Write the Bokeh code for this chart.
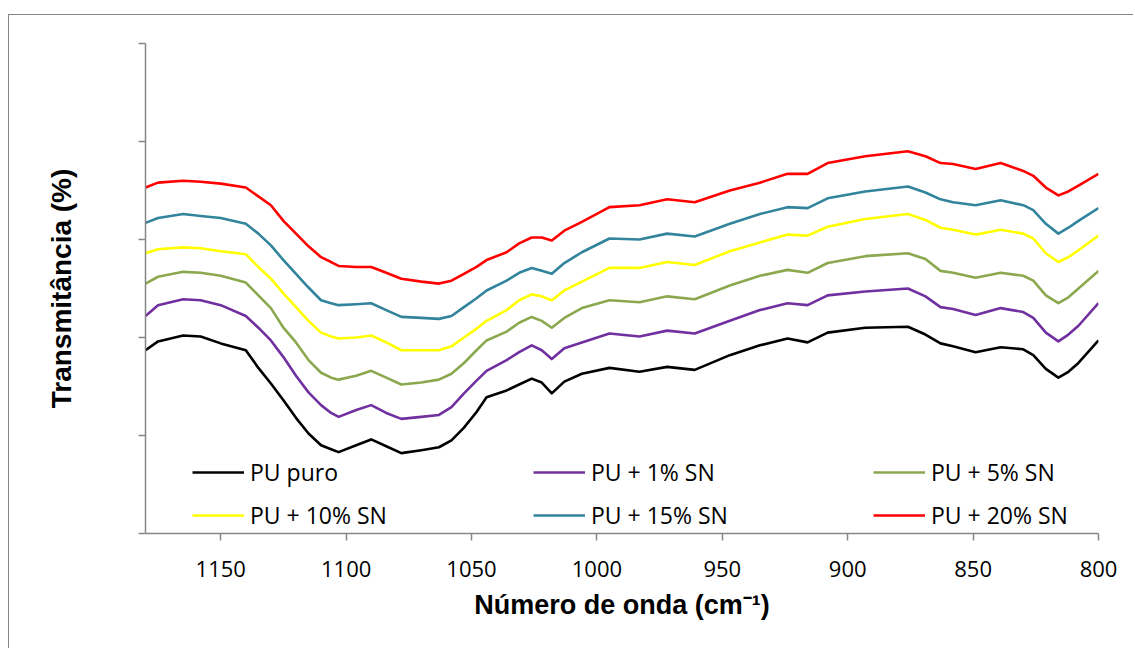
from bokeh.plotting import figure
from bokeh.models import Range1d, FixedTicker, Legend, LegendItem
from bokeh.embed import file_html
from bokeh.resources import INLINE

# Wavenumber (cm-1)
wavenumber = [1180, 1175, 1165, 1158, 1150, 1140, 1135, 1130, 1125, 1120, 1115, 1110,
              1106, 1103, 1096, 1090, 1084, 1078, 1070, 1063, 1058, 1053, 1048, 1044,
              1036, 1031, 1026, 1022, 1018, 1013, 1006, 995, 983, 972, 961, 947,
              935, 924, 916, 908, 893, 876, 869, 863, 858, 849, 839, 830,
              826, 821, 816, 812, 808, 800]

pu_puro = [18.7, 19.6, 20.2, 20.1, 19.4, 18.7, 16.9, 15.3, 13.6, 11.8, 10.2, 9.0,
           8.6, 8.3, 9.0, 9.6, 8.9, 8.2, 8.5, 8.8, 9.5, 10.8, 12.4, 13.9,
           14.6, 15.2, 15.8, 15.4, 14.3, 15.5, 16.3, 16.9, 16.5, 17.0, 16.7, 18.2,
           19.2, 19.9, 19.5, 20.5, 21.0, 21.1, 20.3, 19.4, 19.1, 18.5, 19.0, 18.8,
           18.2, 16.8, 15.9, 16.5, 17.4, 19.7]

pu_1 = [22.2, 23.3, 23.9, 23.8, 23.3, 22.2, 21.0, 19.7, 18.0, 16.1, 14.4, 13.1,
        12.3, 11.9, 12.6, 13.1, 12.3, 11.7, 11.9, 12.1, 12.9, 14.3, 15.6, 16.6,
        17.7, 18.5, 19.2, 18.7, 17.8, 18.9, 19.5, 20.4, 20.1, 20.7, 20.4, 21.7,
        22.8, 23.5, 23.3, 24.3, 24.7, 25.0, 24.2, 23.1, 22.9, 22.3, 23.0, 22.6,
        22.0, 20.5, 19.6, 20.3, 21.2, 23.5]

pu_5 = [25.5, 26.2, 26.7, 26.6, 26.3, 25.6, 24.3, 23.0, 21.0, 19.5, 17.7, 16.4,
        15.9, 15.7, 16.1, 16.6, 15.9, 15.2, 15.4, 15.7, 16.3, 17.4, 18.7, 19.7,
        20.6, 21.5, 22.1, 21.7, 21.0, 22.0, 23.0, 23.8, 23.6, 24.2, 23.9, 25.3,
        26.3, 26.9, 26.6, 27.6, 28.3, 28.6, 28.0, 26.8, 26.6, 26.1, 26.6, 26.3,
        25.8, 24.3, 23.5, 24.1, 25.0, 26.8]

pu_10 = [28.6, 29.0, 29.2, 29.1, 28.8, 28.5, 27.2, 26.0, 24.5, 23.1, 21.7, 20.5,
         20.1, 19.9, 20.0, 20.2, 19.5, 18.7, 18.7, 18.7, 19.1, 20.0, 20.9, 21.7,
         22.8, 23.8, 24.4, 24.2, 23.8, 24.8, 25.7, 27.1, 27.1, 27.7, 27.4, 28.8,
         29.7, 30.5, 30.4, 31.3, 32.1, 32.6, 32.0, 31.2, 31.0, 30.5, 31.0, 30.6,
         30.1, 28.6, 27.7, 28.2, 28.9, 30.4]

pu_15 = [31.7, 32.2, 32.6, 32.4, 32.2, 31.6, 30.6, 29.4, 27.9, 26.5, 25.1, 23.8,
         23.5, 23.3, 23.4, 23.5, 22.8, 22.1, 22.0, 21.9, 22.2, 23.1, 24.0, 24.8,
         25.8, 26.6, 27.1, 26.8, 26.5, 27.6, 28.7, 30.1, 30.0, 30.6, 30.3, 31.6,
         32.6, 33.3, 33.2, 34.2, 34.9, 35.4, 34.8, 34.1, 33.8, 33.5, 34.0, 33.5,
         33.0, 31.6, 30.6, 31.2, 31.9, 33.2]

pu_20 = [35.3, 35.8, 36.0, 35.9, 35.7, 35.3, 34.4, 33.5, 31.9, 30.6, 29.3, 28.2,
         27.7, 27.3, 27.2, 27.2, 26.6, 26.0, 25.7, 25.5, 25.8, 26.5, 27.2, 27.9,
         28.7, 29.6, 30.2, 30.2, 29.9, 30.9, 31.8, 33.3, 33.5, 34.1, 33.8, 35.0,
         35.8, 36.7, 36.7, 37.8, 38.5, 39.0, 38.5, 37.8, 37.7, 37.2, 37.8, 37.0,
         36.5, 35.3, 34.5, 34.9, 35.5, 36.7]

series_names = ["PU puro", "PU + 1% SN", "PU + 5% SN",
                "PU + 10% SN", "PU + 15% SN", "PU + 20% SN"]
series_values = [pu_puro, pu_1, pu_5, pu_10, pu_15, pu_20]
series_colors = ["#000000", "#7030A0", "#8BA84F", "#FFFF00", "#31849B", "#FF0000"]

x_ticks = [1150, 1100, 1050, 1000, 950, 900, 850, 800]
y_ticks = [0, 10, 20, 30, 40, 50]

AXIS_GREY = "#868686"

p = figure(width=1125, height=634, output_backend="svg", toolbar_location=None,
           x_range=Range1d(1180, 800), y_range=Range1d(0, 50),
           min_border_left=136, min_border_right=36, min_border_top=28,
           min_border_bottom=116)
p.grid.visible = False
p.outline_line_color = None
p.background_fill_color = "white"
p.border_fill_color = "white"
p.styles = {"margin-left": "8px", "margin-top": "14px",
            "border-left": "1.5px solid #868686",
            "border-top": "1.5px solid #868686"}

renderers = []
for name, vals, col in zip(series_names, series_values, series_colors):
    r = p.line(wavenumber, vals, line_color=col, line_width=2.6, line_join="round")
    renderers.append(r)

# axes
xa = p.xaxis[0]
xa.ticker = FixedTicker(ticks=x_ticks)
xa.axis_line_color = AXIS_GREY
xa.axis_line_width = 1.5
xa.major_tick_line_color = AXIS_GREY
xa.major_tick_line_width = 1.5
xa.major_tick_in = 0
xa.major_tick_out = 7
xa.minor_tick_line_color = None
xa.major_label_text_font = "Open Sans"
xa.major_label_text_font_size = "22px"
xa.major_label_text_color = "black"
xa.major_label_standoff = 20
xa.axis_label = "Número de onda (cm⁻¹)"
xa.axis_label_text_font = "Liberation Sans"
xa.axis_label_text_font_style = "bold"
xa.axis_label_text_font_size = "27px"
xa.axis_label_text_color = "black"
xa.axis_label_standoff = 10

ya = p.yaxis[0]
ya.ticker = FixedTicker(ticks=y_ticks)
ya.axis_line_color = AXIS_GREY
ya.axis_line_width = 1.5
ya.major_tick_line_color = AXIS_GREY
ya.major_tick_line_width = 1.5
ya.major_tick_in = 0
ya.major_tick_out = 7
ya.minor_tick_line_color = None
ya.major_label_overrides = {t: "" for t in y_ticks}
ya.major_label_text_font_size = "1px"
ya.axis_label = "Transmitância (%)"
ya.axis_label_text_font = "Liberation Sans"
ya.axis_label_text_font_style = "bold"
ya.axis_label_text_font_size = "28px"
ya.axis_label_text_color = "black"
ya.axis_label_standoff = 62

# legends: three columns of two rows
cols_x = [47, 388, 728]
for ci in range(3):
    items = [LegendItem(label=series_names[ci + 3 * ri], renderers=[renderers[ci + 3 * ri]])
             for ri in range(2)]
    leg = Legend(items=items, location=(cols_x[ci], 2), orientation="vertical",
                 glyph_width=52, glyph_height=30, label_height=30, spacing=11,
                 label_standoff=6, padding=0, margin=0,
                 border_line_color=None, background_fill_alpha=0,
                 label_text_font="Open Sans", label_text_font_size="23px",
                 label_text_color="black")
    p.add_layout(leg, "center")

open("out.html", "w").write(file_html(p, INLINE))
